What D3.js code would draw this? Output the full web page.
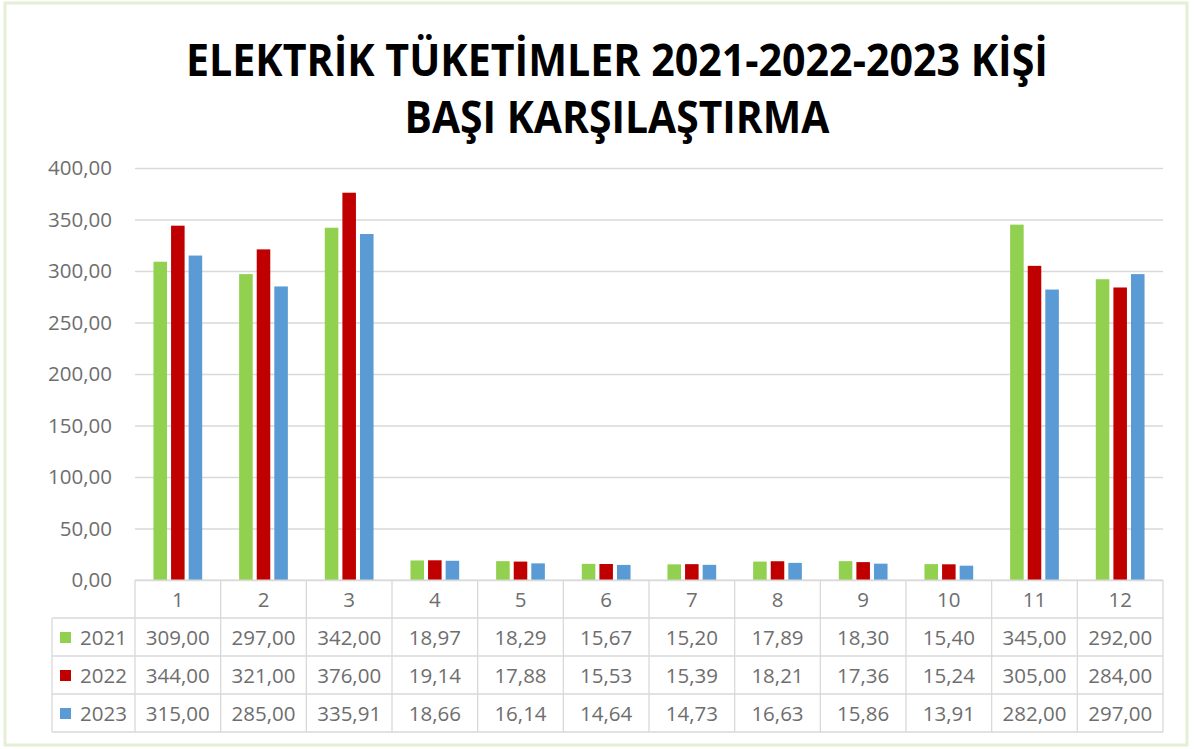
<!DOCTYPE html>
<html><head><meta charset="utf-8">
<script src="https://cdn.jsdelivr.net/npm/d3@7"></script>
<style>body{margin:0;background:#fff;}svg{display:block;}</style>
</head><body>
<script>
const categories = ["1","2","3","4","5","6","7","8","9","10","11","12"];
const seriesNames = ["2021","2022","2023"];
const v2021 = [309.00,297.00,342.00,18.97,18.29,15.67,15.20,17.89,18.30,15.40,345.00,292.00];
const v2022 = [344.00,321.00,376.00,19.14,17.88,15.53,15.39,18.21,17.36,15.24,305.00,284.00];
const v2023 = [315.00,285.00,335.91,18.66,16.14,14.64,14.73,16.63,15.86,13.91,282.00,297.00];
const yTicks = [0,50,100,150,200,250,300,350,400];
const colors = ["#92d050","#c00000","#5b9bd5"];
const titleLines = ["ELEKTRİK TÜKETİMLER 2021-2022-2023 KİŞİ","BAŞI KARŞILAŞTIRMA"];

const W=1195,H=749;
const svg=d3.select("body").append("svg").attr("width",W).attr("height",H);
svg.append("rect").attr("x",5).attr("y",3).attr("width",1182).attr("height",742)
  .attr("fill","#fff").attr("stroke","#e3f0d6").attr("stroke-width",3);

const fmt=v=>v.toFixed(2).replace(".",",");
const series=[v2021,v2022,v2023];
const L=135,R=1163,T=168,B=580;
const x=d3.scaleBand().domain(categories).range([L,R]);
const xs=d3.scaleBand().domain(seriesNames).range([0,x.bandwidth()]).paddingInner(0.23).paddingOuter(1.05);
const y=d3.scaleLinear().domain([0,400]).range([B,T]);
const txtC="#6e6e6e";

// title
svg.append("text").attr("x",617).attr("y",76).attr("text-anchor","middle")
  .attr("font-family","Open Sans").attr("font-weight","bold").attr("font-size",44)
  .attr("textLength",862).attr("lengthAdjust","spacingAndGlyphs").attr("fill","#000").text(titleLines[0]);
svg.append("text").attr("x",617).attr("y",133).attr("text-anchor","middle")
  .attr("font-family","Open Sans").attr("font-weight","bold").attr("font-size",44)
  .attr("textLength",425).attr("lengthAdjust","spacingAndGlyphs").attr("fill","#000").text(titleLines[1]);

// gridlines & y axis
const yAxis=d3.axisLeft(y).tickValues(yTicks).tickSize(-(R-L)).tickFormat(d=>fmt(d)).tickPadding(23);
const ga=svg.append("g").attr("transform",`translate(${L},0)`).call(yAxis);
ga.select(".domain").remove();
ga.selectAll(".tick line").attr("stroke","#d9d9d9").attr("stroke-width",1.3);
ga.selectAll(".tick text").attr("font-family","Open Sans").attr("font-size",20.5).attr("fill",txtC);

// bars
seriesNames.forEach((s,si)=>{
  svg.append("g").selectAll("rect").data(series[si]).join("rect")
    .attr("x",(d,i)=>x(categories[i])+xs(s)).attr("width",xs.bandwidth())
    .attr("y",d=>y(d)).attr("height",d=>B-y(d)).attr("fill",colors[si]);
});

// data table
const rowH=38, legL=52;
const tg=svg.append("g");
const lineC="#d9d9d9";
const rows=[B,B+rowH,B+2*rowH,B+3*rowH,B+4*rowH];
tg.append("line").attr("x1",L).attr("x2",R).attr("y1",B).attr("y2",B).attr("stroke",lineC);
for(let r=1;r<=4;r++){
  tg.append("line").attr("x1",legL).attr("x2",R).attr("y1",rows[r]).attr("y2",rows[r]).attr("stroke",lineC).attr("stroke-width",1.3);
}
const vx=categories.map(c=>x(c)).concat([R]);
vx.forEach(v=>tg.append("line").attr("x1",v).attr("x2",v).attr("y1",B).attr("y2",rows[4]).attr("stroke",lineC).attr("stroke-width",1.3));
tg.append("line").attr("x1",legL).attr("x2",legL).attr("y1",rows[1]).attr("y2",rows[4]).attr("stroke",lineC).attr("stroke-width",1.3);

const tf={"font-family":"Open Sans","font-size":20.5,"fill":txtC};
function T_(sel){Object.entries(tf).forEach(([k,v])=>sel.attr(k,v));return sel;}
categories.forEach(c=>{
  T_(tg.append("text")).attr("x",x(c)+x.bandwidth()/2).attr("y",B+rowH/2+7.5).attr("text-anchor","middle").text(c);
});
seriesNames.forEach((s,si)=>{
  const cy=rows[si+1]+rowH/2;
  tg.append("rect").attr("x",60).attr("y",cy-5).attr("width",11).attr("height",11).attr("fill",colors[si]);
  T_(tg.append("text")).attr("x",80).attr("y",cy+7.5).text(s);
  series[si].forEach((v,i)=>{
    T_(tg.append("text")).attr("x",x(categories[i])+x.bandwidth()/2).attr("y",cy+7.5).attr("text-anchor","middle").text(fmt(v));
  });
});
</script>
</body></html>
